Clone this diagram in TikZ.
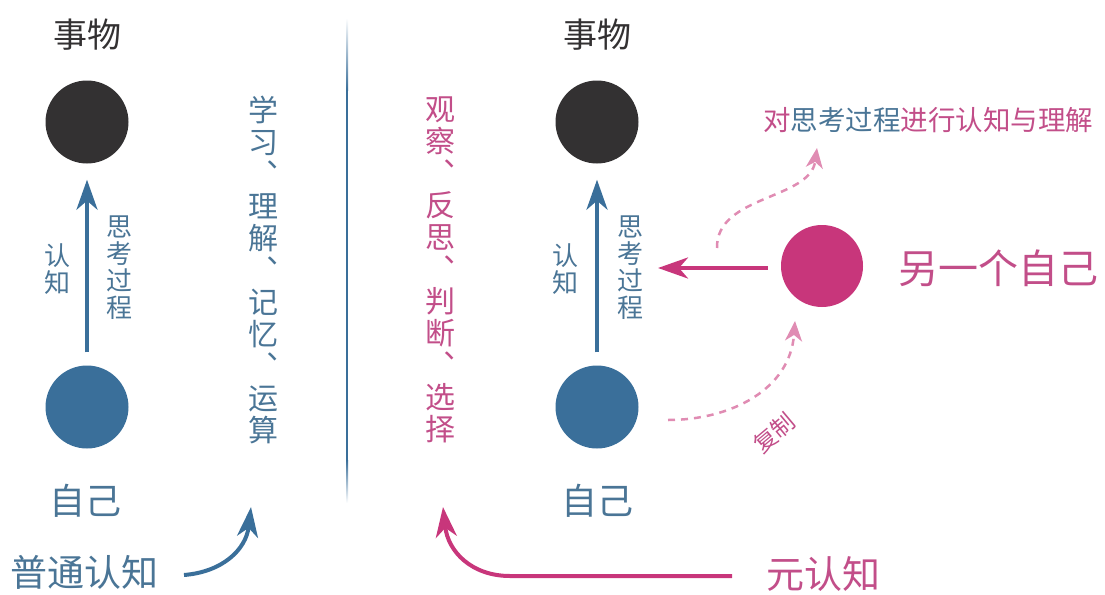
\documentclass[tikz,border=0pt]{standalone}
\usepackage{fontspec}
\newfontfamily\cjk{Noto Sans CJK SC}
\usetikzlibrary{arrows.meta}
\definecolor{dk}{HTML}{333132}
\definecolor{bc}{HTML}{3A6F9A}
\definecolor{bt}{HTML}{4A7596}
\definecolor{pc}{HTML}{C8367B}
\definecolor{pktext}{HTML}{C24E89}
\definecolor{pl}{HTML}{E08CB3}
\begin{document}
\begin{tikzpicture}[x=1pt,y=-1pt,
  dot/.style={circle,minimum size=83pt,inner sep=0pt},
  txt/.style={font=\cjk\fontsize{#1}{#1}\selectfont,inner sep=0pt},
  vsmall/.style={align=center,inner sep=0pt,font=\cjk\fontsize{26}{27}\selectfont},
  vlong/.style={align=center,inner sep=0pt,font=\cjk\fontsize{30}{32}\selectfont},
  barrow/.style={draw=bc,line width=4pt,-{Stealth[length=30pt,width=21pt,inset=9pt]}},
  parrow/.style={draw=pc,line width=4pt,-{Stealth[length=30pt,width=21pt,inset=9pt]}},
  darrow/.style={draw=pl,line width=2.5pt,dash pattern=on 7pt off 6pt,-{Stealth[length=20pt,width=17pt,inset=6pt,fill=pl]}}]
\useasboundingbox (0,0) rectangle (1105,594);
% divider
\shade[top color=white,bottom color=bc] (346,18) rectangle (348,90);
\fill[bc] (346,90) rectangle (348,460);
\shade[top color=bc,bottom color=white] (346,460) rectangle (348,503);
% ---------- left: ordinary cognition ----------
\node[txt=34,text=dk] (tlt) at (87,35) {事物};
\node[dot,fill=dk] (tl) at (87,122) {};
\node[dot,fill=bc] (sl) at (87,407) {};
\node[txt=36,text=bt] (slt) at (85,501) {自己};
\draw[barrow,shorten <=13pt,shorten >=16pt] (sl) -- (tl);
\node[vsmall,text=bt] (lk) at (57,269) {认\\知};
\node[vsmall,text=bt] (ls) at (119,268) {思\\考\\过\\程};
\node[vlong,text=bt] (lv) at (263,270) {学\\习\\︑\\理\\解\\︑\\记\\忆\\︑\\运\\算};
\node[txt=37,text=bt] (pt) at (84,572) {普通认知};
\coordinate (pb0) at (184,575);
\coordinate (pb1) at (251,507);
\draw[barrow] (pb0) .. controls (222,572) and (246,550) .. (pb1);
% ---------- right: metacognition ----------
\node[txt=34,text=dk] (trt) at (597,35) {事物};
\node[dot,fill=dk] (tr) at (597,122) {};
\node[dot,fill=bc] (sr) at (597,407) {};
\node[txt=36,text=bt] (srt) at (597,501) {自己};
\draw[barrow,shorten <=13pt,shorten >=16pt] (sr) -- (tr);
\node[vsmall,text=bt] (rk) at (565,269) {认\\知};
\node[vsmall,text=bt] (rs) at (630,268) {思\\考\\过\\程};
\node[vlong,text=pktext] (rv) at (440,270) {观\\察\\︑\\反\\思\\︑\\判\\断\\︑\\选\\择};
\node[dot,fill=pc,minimum size=82pt] (pk) at (822,266) {};
\node[txt=40,text=pktext] (pkt) at (998,268) {另一个自己};
\node[txt=27.5,text=pktext] (top) at (928,120) {对\textcolor{bt}{思考过程}进行认知与理解};
\coordinate (pa) at (658,268);
\draw[parrow,shorten <=13pt] (pk.west |- pa) -- (pa);
\coordinate (du0) at (717,248);
\coordinate (du1) at (817,148);
\draw[darrow] (du0) .. controls (716,195) and (810,200) .. (du1);
\coordinate (dc0) at (668,420);
\coordinate (dc1) at (795,321);
\draw[darrow] (dc0) .. controls (730,420) and (790,390) .. (dc1);
\node[txt=23,text=pktext,rotate=40] (copy) at (774,433) {复制};
\node[txt=38,text=pktext] (yr) at (823,574) {元认知};
\coordinate (mb0) at (732,576);
\coordinate (mb1) at (443,507);
\draw[parrow] (mb0) -- (510,576) .. controls (472,576) and (448,552) .. (mb1);
\end{tikzpicture}
\end{document}
